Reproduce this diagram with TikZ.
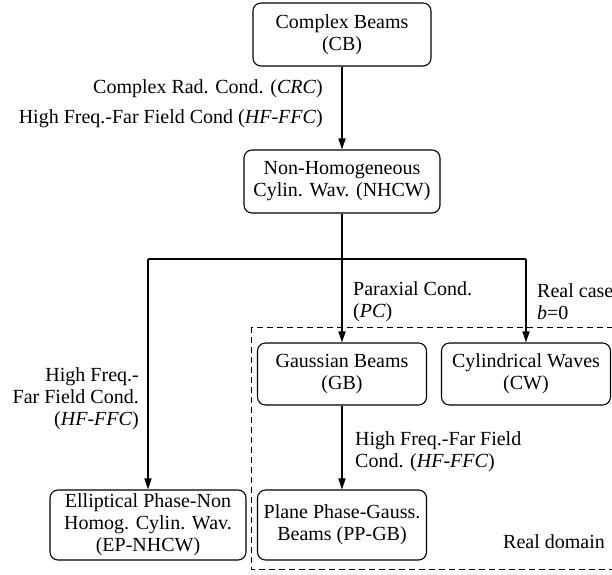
\documentclass[tikz,border=0pt]{standalone}
\usepackage{fontspec}
\setmainfont{Liberation Serif}
\usetikzlibrary{arrows.meta}
\begin{document}
\begin{tikzpicture}[x=1pt,y=-1pt,
  every node/.style={font=\fontsize{20}{22}\selectfont, inner sep=0pt},
  box/.style={draw, line width=1.1pt, rounded corners=8pt, align=center},
  conn/.style={line width=1.5pt},
  arr/.style={conn, -{Triangle[length=11pt,width=7pt]}},
  lbl/.style={align=left}]
\useasboundingbox (0,0) rectangle (612,574);
% dashed real domain
\draw[line width=0.9pt, dash pattern=on 6pt off 4pt] (251,327) rectangle (625,569);
% boxes
\node[box, minimum width=178pt, minimum height=63pt] (CB) at (342,34.5) {Complex Beams\\(CB)};
\node[box, minimum width=196pt, minimum height=63pt] (NHCW) at (342,181.5) {Non-Homogeneous\\Cylin. Wav. (NHCW)};
\node[box, minimum width=169pt, minimum height=62pt] (GB) at (342,374) {Gaussian Beams\\(GB)};
\node[box, minimum width=169pt, minimum height=62pt] (CW) at (526,374) {Cylindrical Waves\\(CW)};
\node[box, minimum width=169pt, minimum height=70pt] (PPGB) at (342,525) {Plane Phase-Gauss.\\Beams (PP-GB)};
\node[box, minimum width=196pt, minimum height=70pt] (EP) at (148,525) {Elliptical Phase-Non\\Homog. Cylin. Wav.\\(EP-NHCW)};
% junction coordinates
\coordinate (jl) at (148,259);
\coordinate (jr) at (526,259);
% connectors
\draw[arr] (CB.south) -- (NHCW.north);
\draw[arr] (NHCW.south) -- (GB.north);
\draw[conn] (jl) -- (jr);
\draw[arr] (jl) -- (EP.north);
\draw[arr] (jr) -- (CW.north);
\draw[arr] (GB.south) -- (PPGB.north);
% labels
\node[anchor=east] (l1) at (323,89) {Complex Rad. Cond. (\textit{CRC})};
\node[anchor=east] (l2) at (323,119) {High Freq.-Far Field Cond (\textit{HF-FFC})};
\node[lbl, anchor=west] (l3) at (353,302) {Paraxial Cond.\\(\textit{PC})};
\node[lbl, anchor=west] (l4) at (537,302) {Real case\\\textit{b}=0};
\node[align=right, anchor=east] (l5) at (139,399) {High Freq.-\\Far Field Cond.\\(\textit{HF-FFC})};
\node[lbl, anchor=west] (l6) at (355,452) {High Freq.-Far Field\\Cond. (\textit{HF-FFC})};
\node[anchor=west] (l7) at (503,542) {Real domain};
\end{tikzpicture}
\end{document}
